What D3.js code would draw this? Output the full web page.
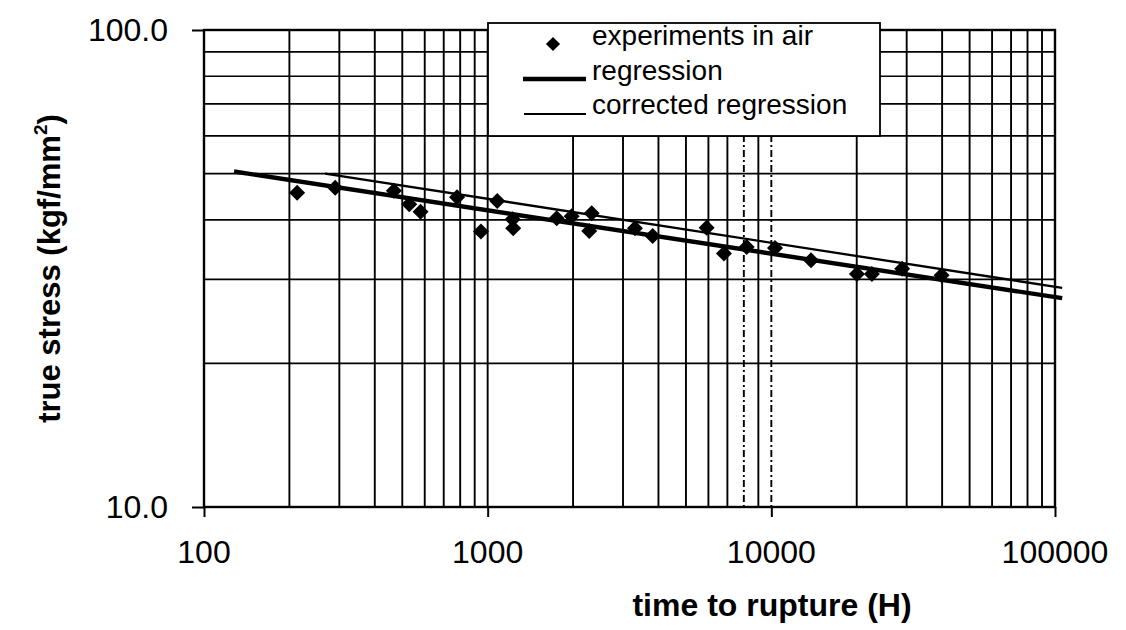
<!DOCTYPE html>
<html>
<head>
<meta charset="utf-8">
<script src="https://cdn.jsdelivr.net/npm/d3@7"></script>
<style>
  html, body { margin: 0; padding: 0; background: #fff; }
  svg { display: block; font-family: "Liberation Sans", Arial, sans-serif; }
</style>
</head>
<body>
<svg id="chart" width="1126" height="630"></svg>
<script>
// Creep rupture tests in air: time to rupture (h) vs true stress (kgf/mm2)
const rupTime = [213, 290, 467, 529, 580, 780, 947, 1081, 1225, 1230,
                 1751, 1978, 2326, 2281, 3305, 3815, 5915, 6806, 8181, 10300,
                 13800, 20030, 22620, 28930, 39850];
const trueStress = [45.6, 46.7, 46.0, 43.1, 41.6, 44.6, 37.8, 43.8, 40.1, 38.4,
                    40.3, 40.7, 41.3, 37.9, 38.4, 37.0, 38.5, 34.0, 35.1, 34.9,
                    32.9, 30.8, 30.8, 31.6, 30.6];

// Fitted lines, given by their two end points [time, stress]
const regressionLine = [[127.6, 50.5], [106000, 27.4]];
const correctedLine = [[267, 50.0], [106000, 28.8]];

const xTickValues = [100, 1000, 10000, 100000];
const yTickValues = [10, 100];
const xTickLabels = ["100", "1000", "10000", "100000"];
const yTickLabels = ["10.0", "100.0"];
const legendLabels = ["experiments in air", "regression", "corrected regression"];

const svg = d3.select("#chart");
const plotL = 204, plotR = 1055, plotT = 30, plotB = 507;

const x = d3.scaleLog().domain([100, 100000]).range([plotL, plotR]);
const y = d3.scaleLog().domain([10, 100]).range([plotB, plotT]);

// Grid lines: every integer multiple within each decade
const vGrid = [];
[100, 1000, 10000].forEach(d => { for (let k = 2; k <= 10; k++) vGrid.push(d * k); });
const hGrid = [];
for (let k = 2; k <= 9; k++) hGrid.push(10 * k);
const dashedV = new Set([8000, 10000]);

const g = svg.append("g");

g.selectAll("line.vgrid").data(vGrid.filter(v => v < 100000)).join("line")
  .attr("class", "vgrid")
  .attr("x1", d => x(d)).attr("x2", d => x(d))
  .attr("y1", plotT).attr("y2", plotB)
  .attr("stroke", "#000").attr("stroke-width", 1.9)
  .attr("stroke-dasharray", d => dashedV.has(d) ? "7,3,2,3" : null);

g.selectAll("line.hgrid").data(hGrid).join("line")
  .attr("class", "hgrid")
  .attr("x1", plotL).attr("x2", plotR)
  .attr("y1", d => y(d)).attr("y2", d => y(d))
  .attr("stroke", "#000").attr("stroke-width", 1.7);

// Plot frame
g.append("rect")
  .attr("x", plotL).attr("y", plotT)
  .attr("width", plotR - plotL).attr("height", plotB - plotT)
  .attr("fill", "none").attr("stroke", "#000").attr("stroke-width", 2.4);

// Axes (ticks pointing outward, labels drawn separately)
const xAxis = d3.axisBottom(x).tickValues(xTickValues).tickSize(10).tickFormat("");
const xa = svg.append("g").attr("transform", `translate(0,${plotB})`).call(xAxis);
xa.select(".domain").remove();
xa.selectAll(".tick line").attr("stroke", "#000").attr("stroke-width", 2);

const yAxis = d3.axisLeft(y).tickValues(yTickValues).tickSize(12).tickFormat("");
const ya = svg.append("g").attr("transform", `translate(${plotL},0)`).call(yAxis);
ya.select(".domain").remove();
ya.selectAll(".tick line").attr("stroke", "#000").attr("stroke-width", 2);

svg.append("g").selectAll("text").data(xTickValues).join("text")
  .attr("x", d => x(d)).attr("y", 563)
  .attr("text-anchor", "middle")
  .attr("font-size", 32).attr("fill", "#000")
  .text((d, i) => xTickLabels[i]);

svg.append("g").selectAll("text").data(yTickValues).join("text")
  .attr("x", 168).attr("y", d => y(d) + 11)
  .attr("text-anchor", "end")
  .attr("font-size", 32).attr("fill", "#000")
  .text((d, i) => yTickLabels[i]);

// Axis titles
svg.append("text")
  .attr("x", 772).attr("y", 616)
  .attr("text-anchor", "middle")
  .attr("font-size", 32).attr("font-weight", "bold")
  .text("time to rupture (H)");

const yTitle = svg.append("text")
  .attr("transform", `translate(60,${(plotT + plotB) / 2}) rotate(-90)`)
  .attr("text-anchor", "middle")
  .attr("font-size", 31).attr("font-weight", "bold");
yTitle.append("tspan").text("true stress (kgf/mm");
yTitle.append("tspan").attr("font-size", 19).attr("dy", -13).text("2");
yTitle.append("tspan").attr("dy", 13).text(")");

// Regression lines
const line = d3.line().x(d => x(d[0])).y(d => y(d[1]));
svg.append("path").datum(correctedLine)
  .attr("d", line).attr("fill", "none")
  .attr("stroke", "#000").attr("stroke-width", 2.3);
svg.append("path").datum(regressionLine)
  .attr("d", line).attr("fill", "none")
  .attr("stroke", "#000").attr("stroke-width", 4.4);

// Experimental points
const diamond = d3.symbol().type(d3.symbolSquare).size(128);
svg.append("g").selectAll("path").data(rupTime).join("path")
  .attr("d", diamond)
  .attr("transform", (d, i) => `translate(${x(d)},${y(trueStress[i])}) rotate(45)`)
  .attr("fill", "#000");

// Legend
const lg = svg.append("g");
lg.append("rect")
  .attr("x", 488).attr("y", 23).attr("width", 392).attr("height", 113)
  .attr("fill", "#fff").attr("stroke", "#000").attr("stroke-width", 1.8);
lg.append("path")
  .attr("d", d3.symbol().type(d3.symbolSquare).size(100))
  .attr("transform", "translate(553,44) rotate(45)")
  .attr("fill", "#000");
lg.append("line").attr("x1", 523).attr("x2", 586).attr("y1", 79).attr("y2", 79)
  .attr("stroke", "#000").attr("stroke-width", 4.4);
lg.append("line").attr("x1", 524).attr("x2", 586).attr("y1", 114).attr("y2", 114)
  .attr("stroke", "#000").attr("stroke-width", 2);
lg.selectAll("text").data(legendLabels).join("text")
  .attr("x", 592).attr("y", (d, i) => 45 + i * 34.5)
  .attr("font-size", 28).attr("fill", "#000")
  .text(d => d);
</script>
</body>
</html>
